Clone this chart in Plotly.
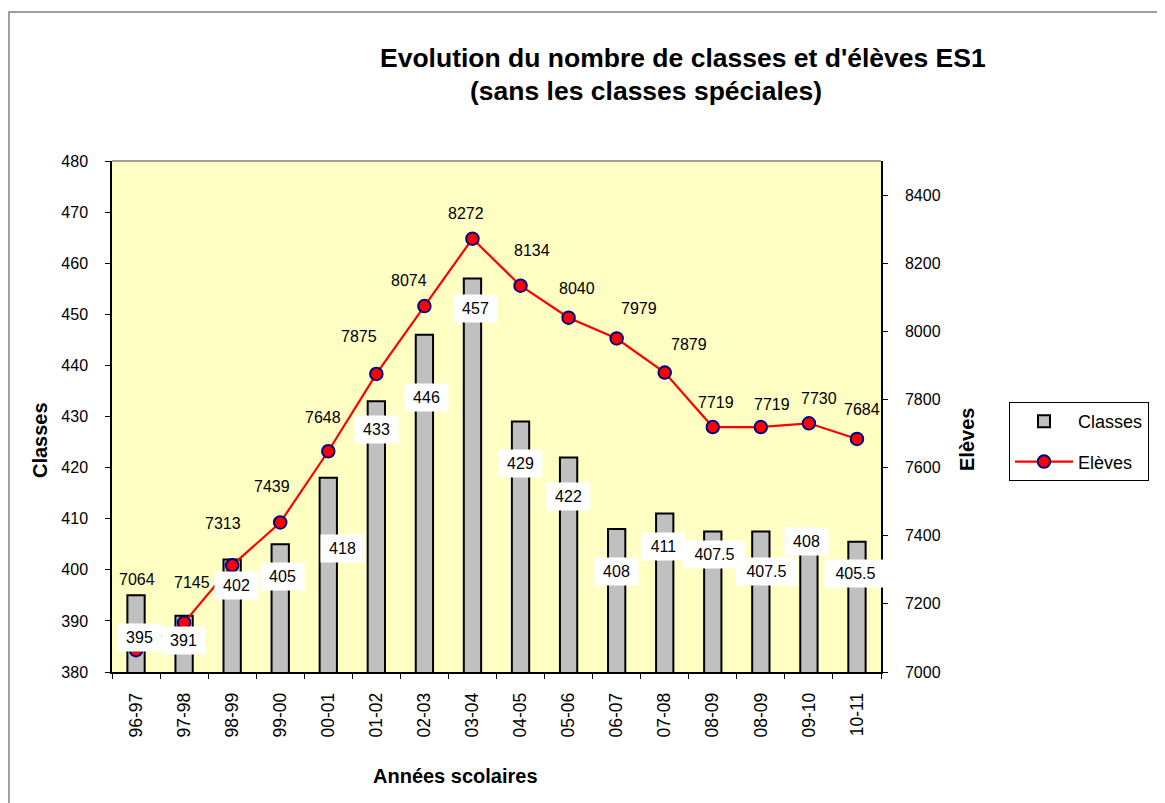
import plotly.graph_objects as go

# donnees
annees = ["96-97", "97-98", "98-99", "99-00", "00-01", "01-02", "02-03", "03-04",
          "04-05", "05-06", "06-07", "07-08", "08-09", "08-09", "09-10", "10-11"]
classes = [395, 391, 402, 405, 418, 433, 446, 457, 429, 422, 408, 411, 407.5, 407.5, 408, 405.5]
eleves = [7064, 7145, 7313, 7439, 7648, 7875, 8074, 8272, 8134, 8040, 7979, 7879, 7719, 7719, 7730, 7684]

# decalages (pixels) des etiquettes, places a la main comme dans Excel
bar_dx = [3, -1, 4, 2, 14, 0, 2, 3, 0, 0, 0, -1, 2, 6, -2, -1]
bar_dy = [42, 25, 26, 32, 71, 28, 63, 30, 42, 39, 43, 33, 23, 40, 13, 32]
line_dx = [1, 8, -9, -8, -5, -17, -15, -6, 11, 8, 22, 24, 3, 11, 10, 5]
line_dy = [-71, -40, -42, -36, -34, -37, -26, -25, -35, -29, -30, -28, -25, -23, -25, -29]

OFF = 8  # marge du body html
W, H = 1165 - OFF, 803 - OFF
L, R, T, B = 112, 881, 161, 672  # zone de trace (pixels de l'image)

def px(x):
    return (x - L) / (R - L)

def py(y):
    return (B - y) / (B - T)

FONT = "Liberation Sans, Arial, sans-serif"
xs = list(range(len(annees)))
bounds = [i - 0.5 for i in range(len(annees) + 1)]

fig = go.Figure()
fig.add_trace(go.Bar(x=xs, y=classes, name="Classes", width=0.36,
                     marker=dict(color="#C0C0C0", line=dict(color="black", width=2)),
                     legendgroup="a", yaxis="y"))
fig.add_trace(go.Scatter(x=xs, y=eleves, name="Elèves", mode="lines+markers",
                         line=dict(color="#FF0000", width=2.2),
                         marker=dict(symbol="circle", size=12.5, color="#FF0000",
                                     line=dict(color="#000080", width=2)),
                         legendgroup="b", yaxis="y2"))

ann = []
for i in xs:
    txt = f"{classes[i]:g}"
    ann.append(dict(x=i, y=classes[i], xref="x", yref="y", text=txt, showarrow=False,
                    xanchor="center", yanchor="middle",
                    xshift=bar_dx[i], yshift=-bar_dy[i], bgcolor="white", borderpad=5,
                    width=len(txt) * 9 + 6, font=dict(size=16, color="black", family=FONT)))
    ann.append(dict(x=i, y=eleves[i], xref="x", yref="y2", text=str(eleves[i]), showarrow=False,
                    xanchor="center", yanchor="middle",
                    xshift=line_dx[i], yshift=-line_dy[i],
                    font=dict(size=16, color="black", family=FONT)))

def label(x, y, text, size, angle=0):
    return dict(x=px(x), y=py(y), xref="paper", yref="paper", showarrow=False,
                xanchor="center", yanchor="middle", textangle=angle,
                text=text, font=dict(size=size, color="black", family=FONT))

ann += [
    label(683, 58, "<b>Evolution du nombre de classes et d'élèves ES1</b>", 26.5),
    label(646, 91, "<b>(sans les classes spéciales)</b>", 26.5),
    label(40, 440, "<b>Classes</b>", 20, -90),
    label(967, 440, "<b>Elèves</b>", 20, -90),
    label(455, 776, "<b>Années scolaires</b>", 20),
]

shapes = [
    # cadre du graphique
    dict(type="rect", xref="paper", yref="paper", x0=px(9), x1=px(1180), y0=py(820), y1=py(12),
         line=dict(color="#808080", width=1.5), layer="below"),
    # bord superieur de la zone de trace
    dict(type="line", xref="paper", yref="paper", x0=0, x1=1, y0=1, y1=1,
         line=dict(color="#808080", width=1.5)),
]

tickfont = dict(size=16, color="black", family=FONT)
fig.update_layout(
    width=W, height=H,
    margin=dict(l=L - OFF, r=W - (R - OFF), t=T - OFF, b=H - (B - OFF)),
    paper_bgcolor="white", plot_bgcolor="#FFFFC4",
    font=dict(family=FONT, color="black"),
    xaxis=dict(range=[-0.5, len(annees) - 0.5], tickmode="array", tickvals=xs, ticktext=annees,
               tickangle=-90, ticks="", tickfont=dict(size=17.5, color="black", family=FONT),
               ticklabelstandoff=12,
               showline=True, linecolor="black", linewidth=1.5, showgrid=False, zeroline=False,
               minor=dict(tickmode="array", tickvals=bounds, ticks="outside", ticklen=5,
                          tickcolor="black", tickwidth=1, showgrid=False)),
    xaxis2=dict(overlaying="x", range=[-0.5, len(annees) - 0.5], side="bottom", anchor="y",
                showticklabels=False, ticks="", showgrid=False, zeroline=False, showline=False,
                minor=dict(tickmode="array", tickvals=bounds, ticks="inside", ticklen=5,
                           tickcolor="black", tickwidth=1, showgrid=False)),
    yaxis=dict(range=[380, 480], dtick=10, tick0=380, ticks="outside", ticklen=5,
               tickcolor="black", tickfont=tickfont, ticklabelstandoff=14,
               showline=True, linecolor="black", linewidth=1.5, showgrid=False, zeroline=False),
    yaxis2=dict(range=[7000, 8500], dtick=200, tick0=7000, overlaying="y", side="right",
                ticks="outside", ticklen=5, tickcolor="black", tickfont=tickfont,
                ticklabelstandoff=14,
                showline=True, linecolor="black", linewidth=1.5, showgrid=False, zeroline=False),
    yaxis3=dict(range=[380, 480], dtick=10, tick0=380, overlaying="y", side="left",
                ticks="inside", ticklen=5, tickcolor="black", showticklabels=False,
                showline=False, showgrid=False, zeroline=False),
    yaxis4=dict(range=[7000, 8500], dtick=200, tick0=7000, overlaying="y", side="right",
                ticks="inside", ticklen=5, tickcolor="black", showticklabels=False,
                showline=False, showgrid=False, zeroline=False),
    legend=dict(x=px(1009), y=py(402), xanchor="left", yanchor="top",
                bgcolor="white", bordercolor="black", borderwidth=1,
                font=dict(size=18, color="black", family=FONT),
                traceorder="grouped", tracegroupgap=14, itemwidth=58),
    annotations=ann,
    shapes=shapes,
)

fig.write_html("out.html")
